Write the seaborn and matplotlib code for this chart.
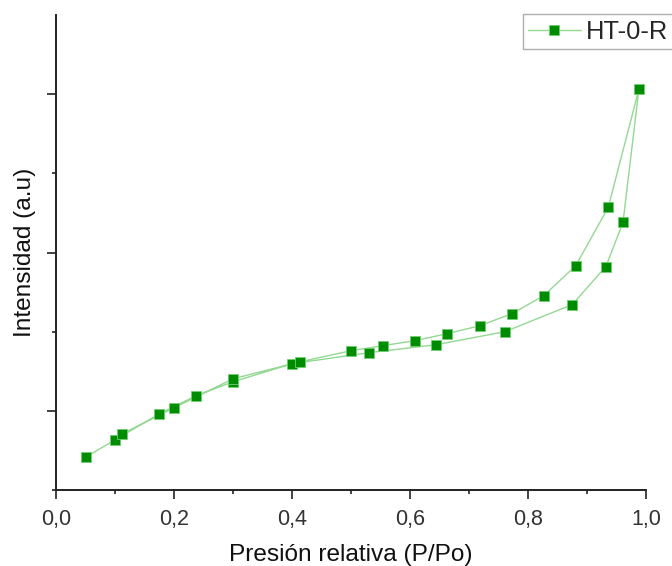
import matplotlib
matplotlib.use("Agg")
import matplotlib.pyplot as plt
import matplotlib.ticker as mticker
import numpy as np
import pandas as pd
import seaborn as sns

# Relative pressure (P/Po) and intensity (a.u.) for the HT-0-R isotherm
p_ads = [0.051, 0.100, 0.175, 0.237, 0.300, 0.400, 0.530, 0.644, 0.761, 0.875, 0.932, 0.961, 0.988]
v_ads = [0.418, 0.633, 0.962, 1.190, 1.367, 1.595, 1.734, 1.835, 2.000, 2.342, 2.823, 3.380, 5.063]
p_des = [0.936, 0.881, 0.827, 0.773, 0.719, 0.663, 0.608, 0.554, 0.500, 0.414, 0.300, 0.200, 0.112]
v_des = [3.570, 2.835, 2.456, 2.228, 2.076, 1.975, 1.886, 1.823, 1.759, 1.620, 1.405, 1.038, 0.709]

x_ticks = [0.0, 0.2, 0.4, 0.6, 0.8, 1.0]
x_tick_labels = ["0,0", "0,2", "0,4", "0,6", "0,8", "1,0"]
series_name = "HT-0-R"

df = pd.DataFrame({
    "p": p_ads + p_des,
    "v": v_ads + v_des,
})

sns.set_theme(style="ticks")
plt.rcParams["font.family"] = ["Liberation Sans", "DejaVu Sans"]

fig = plt.figure(figsize=(6.72, 5.66), dpi=100)
ax = fig.add_axes([56 / 672, 1 - 490 / 566, 590 / 672, 475 / 566])

sns.lineplot(
    data=df, x="p", y="v", sort=False, estimator=None, ax=ax,
    color="#93d893", linewidth=1.0,
    marker="s", markersize=7.8,
    markerfacecolor="#008c00", markeredgecolor="#6fcf6f", markeredgewidth=0.6,
    label=series_name,
)

ax.set_xlim(0, 1.0)
ax.set_ylim(0, 6.0)

ax.xaxis.set_major_locator(mticker.FixedLocator(x_ticks))
ax.set_xticklabels(x_tick_labels)
ax.xaxis.set_minor_locator(mticker.MultipleLocator(0.1))

ax.yaxis.set_major_locator(mticker.FixedLocator([1, 3, 5]))
ax.yaxis.set_minor_locator(mticker.FixedLocator([0, 2, 4]))
ax.tick_params(axis="y", which="both", labelleft=False)

ax.tick_params(axis="both", which="major", direction="out", length=6.5, width=1.2,
               color="#222222", labelsize=15.5, labelcolor="#333333", pad=7)
ax.tick_params(axis="both", which="minor", direction="out", length=3, width=1.2,
               color="#222222")

for side in ["top", "right"]:
    ax.spines[side].set_visible(False)
for side in ["left", "bottom"]:
    ax.spines[side].set_linewidth(1.4)
    ax.spines[side].set_color("#222222")

ax.set_xlabel("Presión relativa (P/Po)", fontsize=17.6, color="#111111", labelpad=10)
ax.set_ylabel("Intensidad (a.u)", fontsize=17.6, color="#111111", labelpad=8)

leg = ax.legend(
    loc="upper right", bbox_to_anchor=(1.003, 1 - 14 / 566),
    bbox_transform=fig.transFigure, fontsize=18.4, frameon=True, fancybox=False,
    handlelength=2.05, handletextpad=0.22, borderpad=0.22, borderaxespad=0,
    markerscale=0.85,
)
leg.get_frame().set_edgecolor("#9a9a9a")
leg.get_frame().set_linewidth(1.0)

fig.savefig("out.png", dpi=100)
